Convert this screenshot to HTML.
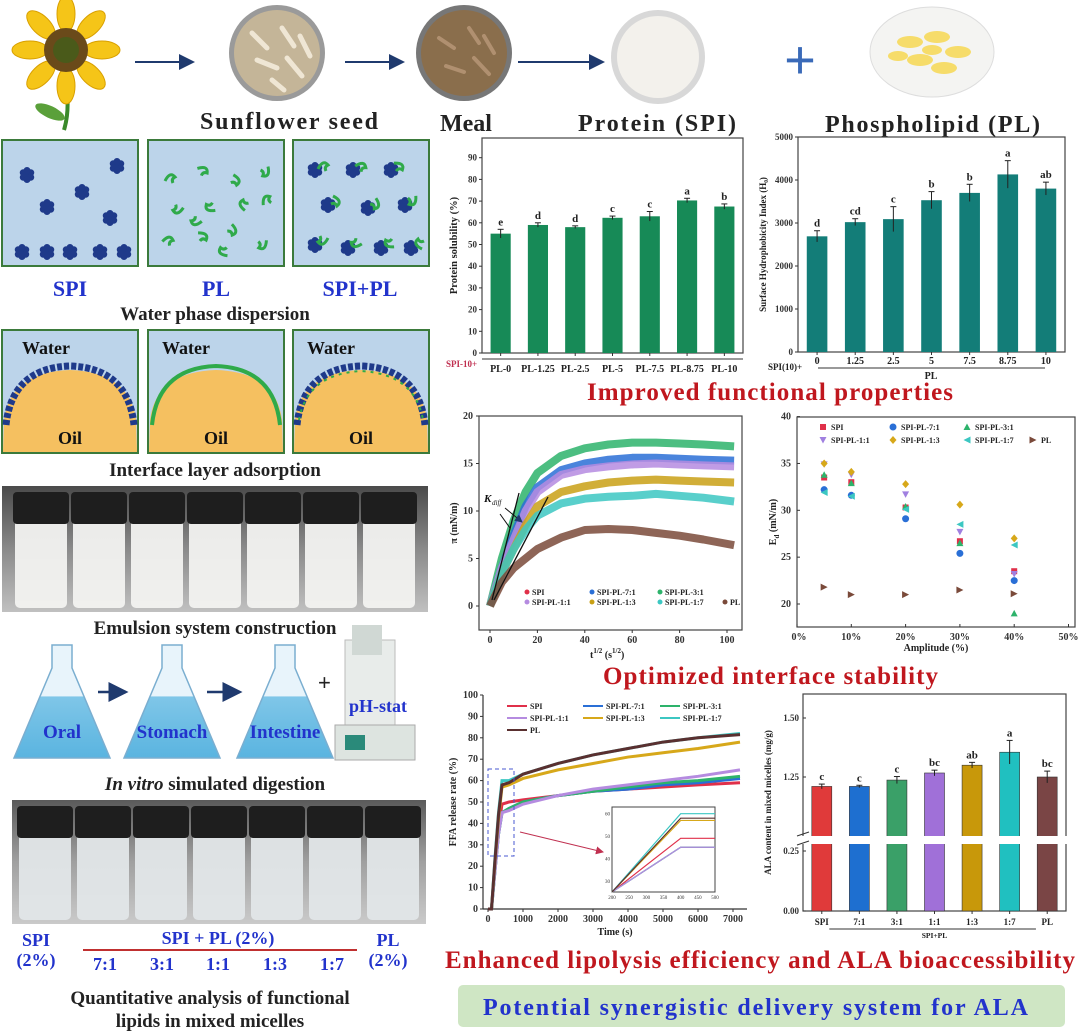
<!DOCTYPE html>
<html><head><meta charset="utf-8"><style>
html,body{margin:0;padding:0;background:#fff;}
svg{display:block;font-family:"Liberation Serif",serif;}
</style></head><body>
<svg id="root" width="1080" height="1035" viewBox="0 0 1080 1035" xmlns="http://www.w3.org/2000/svg">
<defs>
<marker id="ah" markerWidth="8" markerHeight="8" refX="7" refY="4" orient="auto"><path d="M0,0 L8,4 L0,8 z" fill="#1f3a6e"/></marker>
<marker id="ahr" markerWidth="8" markerHeight="8" refX="7" refY="4" orient="auto"><path d="M0,0 L8,4 L0,8 z" fill="#c03050"/></marker>
<linearGradient id="photo1" x1="0" y1="0" x2="0" y2="1"><stop offset="0" stop-color="#4a4a4a"/><stop offset="0.5" stop-color="#8a8a8a"/><stop offset="1" stop-color="#c0c0c0"/></linearGradient>
<linearGradient id="photo2" x1="0" y1="0" x2="0" y2="1"><stop offset="0" stop-color="#5a5a5a"/><stop offset="0.5" stop-color="#a0a0a0"/><stop offset="1" stop-color="#cacaca"/></linearGradient>
<linearGradient id="flask" x1="0" y1="0" x2="0" y2="1"><stop offset="0" stop-color="#e8f4fb"/><stop offset="0.45" stop-color="#e8f4fb"/><stop offset="0.46" stop-color="#7fc6e8"/><stop offset="1" stop-color="#5ab4e0"/></linearGradient>
</defs>

<!-- top row -->
<g>
<path d="M66,85 Q70,110 64,130" stroke="#3a8a2a" stroke-width="4" fill="none"/>
<ellipse cx="50" cy="112" rx="16" ry="6" fill="#5aa03a" transform="rotate(25 50 112)"/>
<g fill="#f5c518" stroke="#d9a000" stroke-width="1">
<ellipse cx="66" cy="14" rx="9" ry="18"/><ellipse cx="66" cy="86" rx="9" ry="18"/>
<ellipse cx="30" cy="50" rx="18" ry="9"/><ellipse cx="102" cy="50" rx="18" ry="9"/>
<ellipse cx="41" cy="25" rx="9" ry="18" transform="rotate(-45 41 25)"/><ellipse cx="91" cy="75" rx="9" ry="18" transform="rotate(-45 91 75)"/>
<ellipse cx="91" cy="25" rx="9" ry="18" transform="rotate(45 91 25)"/><ellipse cx="41" cy="75" rx="9" ry="18" transform="rotate(45 41 75)"/>
</g>
<circle cx="66" cy="50" r="22" fill="#6a4a1a"/><circle cx="66" cy="50" r="13" fill="#4a5a1a"/>
</g>
<line x1="135" y1="62" x2="193" y2="62" stroke="#1f3a6e" stroke-width="2" marker-end="url(#ah)"/>
<g><circle cx="277" cy="53" r="48" fill="#9a9a9a"/><circle cx="277" cy="53" r="43" fill="#c4b598"/>
<g stroke="#efe6d4" stroke-width="5" stroke-linecap="round"><line x1="252" y1="33" x2="267" y2="48"/><line x1="282" y1="28" x2="294" y2="46"/><line x1="257" y1="60" x2="277" y2="68"/><line x1="287" y1="58" x2="302" y2="76"/><line x1="272" y1="80" x2="284" y2="90"/><line x1="300" y1="36" x2="310" y2="56"/></g></g>
<line x1="345" y1="62" x2="403" y2="62" stroke="#1f3a6e" stroke-width="2" marker-end="url(#ah)"/>
<g><circle cx="464" cy="53" r="48" fill="#777"/><circle cx="464" cy="53" r="43" fill="#8a6e4c"/>
<g stroke="#b09070" stroke-width="4" stroke-linecap="round"><line x1="439" y1="38" x2="454" y2="48"/><line x1="469" y1="28" x2="479" y2="43"/><line x1="446" y1="66" x2="464" y2="72"/><line x1="474" y1="58" x2="489" y2="74"/><line x1="484" y1="36" x2="494" y2="53"/></g></g>
<line x1="518" y1="62" x2="603" y2="62" stroke="#1f3a6e" stroke-width="2" marker-end="url(#ah)"/>
<g><circle cx="658" cy="57" r="47" fill="#d8d8d8"/><circle cx="658" cy="57" r="41" fill="#f3f1ec"/></g>
<text x="800" y="78" font-size="54" fill="#3a6ab8" text-anchor="middle" font-family="Liberation Sans, sans-serif">+</text>
<g><ellipse cx="932" cy="52" rx="62" ry="45" fill="#f4f4f2" stroke="#ddd"/>
<g fill="#f6dc6a"><ellipse cx="910" cy="42" rx="13" ry="6"/><ellipse cx="937" cy="37" rx="13" ry="6"/><ellipse cx="958" cy="52" rx="13" ry="6"/><ellipse cx="920" cy="60" rx="13" ry="6"/><ellipse cx="944" cy="68" rx="13" ry="6"/><ellipse cx="898" cy="56" rx="10" ry="5"/><ellipse cx="932" cy="50" rx="10" ry="5"/></g></g>
<text x="200" y="129" font-size="24" font-weight="bold" fill="#222" textLength="178">Sunflower seed</text>
<text x="440" y="131" font-size="24" font-weight="bold" fill="#222">Meal</text>
<text x="578" y="131" font-size="24" font-weight="bold" fill="#222" textLength="158">Protein (SPI)</text>
<text x="825" y="132" font-size="24" font-weight="bold" fill="#222" textLength="215">Phospholipid (PL)</text>

<!-- dispersion panels -->
<g id="disp"></g>
<text x="70" y="296" font-size="22" font-weight="bold" fill="#2233cc" text-anchor="middle">SPI</text>
<text x="216" y="296" font-size="22" font-weight="bold" fill="#2233cc" text-anchor="middle">PL</text>
<text x="360" y="296" font-size="22" font-weight="bold" fill="#2233cc" text-anchor="middle">SPI+PL</text>
<text x="215" y="320" font-size="19" font-weight="bold" fill="#222" text-anchor="middle">Water phase dispersion</text>
<g id="iface"></g>
<text x="215" y="476" font-size="19" font-weight="bold" fill="#222" text-anchor="middle">Interface layer adsorption</text>

<g id="photoA"><rect x="2" y="486" width="426" height="126" fill="url(#photo1)"/></g>
<text x="215" y="634" font-size="19" font-weight="bold" fill="#222" text-anchor="middle">Emulsion system construction</text>

<g>
<g id="flasks"></g>
<line x1="98" y1="692" x2="126" y2="692" stroke="#1f3a6e" stroke-width="2.5" marker-end="url(#ah)"/>
<line x1="207" y1="692" x2="240" y2="692" stroke="#1f3a6e" stroke-width="2.5" marker-end="url(#ah)"/>
<text x="318" y="690" font-size="22" fill="#222" font-family="Liberation Sans, sans-serif">+</text>
<g><rect x="345" y="640" width="50" height="110" fill="#e8ecea" stroke="#bbb"/><rect x="352" y="625" width="30" height="30" fill="#d0d8d4"/><rect x="335" y="725" width="80" height="35" fill="#dde4e0" stroke="#aaa"/><rect x="345" y="735" width="20" height="15" fill="#2a8a7a"/></g>
<text x="378" y="712" font-size="18" font-weight="bold" fill="#2233cc" text-anchor="middle">pH-stat</text>
</g>
<text x="215" y="790" font-size="19" font-weight="bold" fill="#222" text-anchor="middle"><tspan font-style="italic">In vitro</tspan> simulated digestion</text>
<g id="photoB"><rect x="12" y="800" width="414" height="124" fill="url(#photo2)"/></g>
<g font-size="18" font-weight="bold" fill="#2233cc" text-anchor="middle">
<text x="36" y="946">SPI</text><text x="36" y="966">(2%)</text>
<text x="218" y="944">SPI + PL (2%)</text>
<line x1="83" y1="950" x2="357" y2="950" stroke="#c03030" stroke-width="2"/>
<text x="105" y="970">7:1</text><text x="162" y="970">3:1</text><text x="218" y="970">1:1</text><text x="275" y="970">1:3</text><text x="332" y="970">1:7</text>
<text x="388" y="946">PL</text><text x="388" y="966">(2%)</text>
</g>
<text x="210" y="1004" font-size="19" font-weight="bold" fill="#222" text-anchor="middle">Quantitative analysis of functional</text>
<text x="210" y="1027" font-size="19" font-weight="bold" fill="#222" text-anchor="middle">lipids in mixed micelles</text>

<!-- right titles -->
<text x="587" y="400" font-size="25" font-weight="bold" fill="#c0171e" textLength="366">Improved functional properties</text>
<text x="603" y="684" font-size="25" font-weight="bold" fill="#c0171e" textLength="335">Optimized interface stability</text>
<text x="445" y="968" font-size="25" font-weight="bold" fill="#c0171e" textLength="630">Enhanced lipolysis efficiency and ALA bioaccessibility</text>
<g><rect x="458" y="985" width="607" height="42" rx="5" fill="#cfe6c4"/>
<text x="483" y="1015" font-size="24" font-weight="bold" fill="#2233cc" textLength="545">Potential synergistic delivery system for ALA</text></g>

<g id="charts"></g>
</svg>
<script>
// ---- chart data ----
const solCats = ['PL-0','PL-1.25','PL-2.5','PL-5','PL-7.5','PL-8.75','PL-10'];
const solVals = [55,59,58,62.3,63,70.3,67.5];
const solErr = [2,1,0.6,0.8,2.2,1,1.2];
const solLet = ['e','d','d','c','c','a','b'];
const solTicks = [0,10,20,30,40,50,60,70,80,90];
const hydCats = ['0','1.25','2.5','5','7.5','8.75','10'];
const hydVals = [2690,3020,3090,3530,3700,4130,3800];
const hydErr = [130,80,290,200,200,320,150];
const hydLet = ['d','cd','c','b','b','a','ab'];
const hydTicks = [0,1000,2000,3000,4000,5000];
const piT = [0,5,10,15,20,30,40,50,60,70,80,90,103];
const piNames = ['SPI-PL-3:1','SPI-PL-7:1','SPI-PL-1:1','SPI-PL-1:3','SPI-PL-1:7','PL'];
const piGreen = [0,5,9,12,14,15.8,16.6,17,17.2,17.2,17.1,17,16.8];
const piBlue = [0,4,7.5,10.5,12.5,14.3,15,15.4,15.6,15.6,15.5,15.4,15.3];
const piPurple = [0,4,7,10,12,13.8,14.4,14.7,14.9,15,14.9,14.8,14.7];
const piYellow = [0,3.5,6,8.5,10.5,12,12.6,13,13.2,13.3,13.2,13.1,13];
const piCyan = [0,3.5,6,8,9.5,10.8,11.3,11.5,11.6,11.8,11.6,11.4,11];
const piBrown = [0,2.5,4,5,6,7.2,8,8.1,8,7.7,7.4,7,6.4];
const piXTicks = [0,20,40,60,80,100];
const piYTicks = [0,5,10,15,20];
const ampVals = [5,10,20,30,40];
const edSPI = [33.5,33,30.3,26.7,23.5];
const ed71 = [32.2,31.6,29.1,25.4,22.5];
const ed31 = [33.8,32.9,30.4,26.5,19];
const ed11 = [34.9,33.8,31.7,27.7,23.2];
const ed13 = [35,34.1,32.8,30.6,27];
const ed17 = [31.9,31.5,30.1,28.5,26.3];
const edPL = [21.8,21,21,21.5,21.1];
const edXTicks = [0,10,20,30,40,50];
const edYTicks = [20,25,30,35,40];
const ffaT = [0,100,200,300,400,600,1000,2000,3000,4000,5000,6000,7200];
const ffaSPI = [0,0,20,38,49,50,51,53,55,56,57,58,59];
const ffa71 = [0,0,18,35,45,47,50,53,55,56,58,59,61];
const ffa31 = [0,0,18,35,45,47,50,53,55,57,59,60,62];
const ffa11 = [0,0,18,35,45,46,49,53,56,58,60,62,65];
const ffa13 = [0,0,22,42,57,58,61,65,68,71,73,75,78];
const ffa17 = [0,0,24,45,60,60,63,68,72,75,78,80,82];
const ffaPL = [0,0,23,44,58,59,63,68,72,75,78,80,81.5];
const ffaXTicks = [0,1000,2000,3000,4000,5000,6000,7000];
const ffaYTicks = [0,10,20,30,40,50,60,70,80,90,100];
const alaCats = ['SPI','7:1','3:1','1:1','1:3','1:7','PL'];
const alaVals = [1.21,1.21,1.237,1.267,1.30,1.355,1.25];
const alaErr = [0.01,0.005,0.015,0.012,0.012,0.05,0.025];
const alaLet = ['c','c','c','bc','ab','a','bc'];

const NS='http://www.w3.org/2000/svg';
function mk(tag, attrs, parent){const e=document.createElementNS(NS,tag);for(const k in attrs)e.setAttribute(k,attrs[k]);parent.appendChild(e);return e;}
function txt(s, attrs, parent){const e=mk('text',attrs,parent);e.textContent=s;return e;}
const charts=document.getElementById('charts');
const F='Liberation Serif, serif';

// ---- illustrations ----
(function(){
 const d=document.getElementById('disp');
 const xs=[2,148,293];
 function cluster(g,cx,cy,s){for(const[a,b]of[[0,0],[-1,-0.6],[1,-0.6],[-1,0.6],[1,0.6],[0,-1.2],[0,1.2]])mk('circle',{cx:cx+a*3.6*s,cy:cy+b*3.6*s,r:3.3*s,fill:'#1f3a8a'},g);}
 function leaf(g,cx,cy,r){mk('path',{d:`M${cx-5},${cy+3} q5,-10 10,-4 q-4,2 -2,6`,fill:'none',stroke:'#2faa4a','stroke-width':3,transform:`rotate(${r} ${cx} ${cy})`},g);}
 xs.forEach((x,i)=>{
  const g=mk('g',{},d);
  
  
  mk('rect',{x:x,y:140,width:136,height:126,fill:'#bcd4ea',stroke:'#3b7a3b','stroke-width':2},g);
  if(i===0){[[25,175],[115,166],[80,192],[45,207],[108,218],[20,252],[45,252],[68,252],[98,252],[122,252]].forEach(p=>cluster(g,x+p[0],p[1],1.05));}
  if(i===1){[[22,178],[55,170],[88,180],[118,172],[30,210],[62,208],[95,205],[118,200],[20,240],[55,236],[85,230],[115,245],[48,222],[75,252]].forEach((p,j)=>leaf(g,x+p[0],p[1],j*47));}
  if(i===2){[[22,170],[60,170],[98,170],[35,205],[75,208],[112,205],[22,245],[55,248],[88,248],[118,248]].forEach((p,j)=>{cluster(g,x+p[0],p[1],1.05);leaf(g,x+p[0]+8,p[1]-4,j*30);});}
 });
 const f=document.getElementById('iface');
 xs.forEach((x,i)=>{
  const g=mk('g',{},f);
  
  
  mk('rect',{x:x,y:330,width:136,height:123,fill:'#bcd4ea',stroke:'#3b7a3b','stroke-width':2},g);
  mk('path',{d:`M${x+1},452 L${x+2},420 Q${x+8},372 ${x+68},370 Q${x+128},372 ${x+134},420 L${x+135},452 Z`,fill:'#f5c060'},g);
  const col=i===1?'#2faa4a':'#1f3a8a';
  mk('path',{d:`M${x+4},425 Q${x+10},368 ${x+68},366 Q${x+126},368 ${x+132},425`,fill:'none',stroke:col,'stroke-width':i===1?4:7,'stroke-dasharray':i===1?'':'5 2'},g);
  if(i===2)mk('path',{d:`M${x+6},420 Q${x+14},374 ${x+68},371 Q${x+122},374 ${x+130},420`,fill:'none',stroke:'#2faa4a','stroke-width':2,'stroke-dasharray':'3 5'},g);
  txt('Water',{x:x+(i===0?20:14),y:354,'font-size':18,'font-weight':'bold',fill:'#111'},g);
  txt('Oil',{x:x+68,y:444,'font-size':18,'font-weight':'bold',fill:'#111','text-anchor':'middle'},g);
 });
 function vials(id,y0,h,fill,x0){const g=document.getElementById(id);for(let i=0;i<7;i++){const x=x0+i*58;
  mk('rect',{x:x+3,y:y0+22,width:52,height:h-26,rx:5,fill:fill,opacity:0.95},g);
  mk('rect',{x:x+1,y:y0+6,width:56,height:32,rx:4,fill:'#1e1e1e'},g);}}
 vials('photoA',486,126,'#f2f2f0',12);
 vials('photoB',800,124,'#e2e6e8',16);
 const fl=document.getElementById('flasks');
 [['Oral',62],['Stomach',172],['Intestine',285]].forEach(([n,cx],i)=>{
  const g=mk('g',{},fl);
  
  
  mk('path',{d:`M${cx-10},645 L${cx+10},645 L${cx+10},668 L${cx+48},758 L${cx-48},758 L${cx-10},668 Z`,fill:'url(#flask)',stroke:'#7aaed0','stroke-width':1.5},g);
  txt(n,{x:cx,y:738,'font-size':19,'font-weight':'bold',fill:'#2233cc','text-anchor':'middle'},g);
 });
})();

// ---- generic bar chart ----
function barChart(name,L,R,T,B,cats,vals,err,lets,ticks,ymax,color,ylabel,opts){
 const g=mk('g',{},charts);
 
 
 const y=v=>B-v/ymax*(B-opts.top);
 const bw=(R-L)/cats.length;
 mk('rect',{x:L,y:T,width:R-L,height:B-T,fill:'none',stroke:'#444','stroke-width':1.2},g);
 ticks.forEach(t=>{mk('line',{x1:L-3,y1:y(t),x2:L,y2:y(t),stroke:'#333'},g);
  const tl=txt(String(t),{x:L-5,y:y(t)+3,'font-size':9,'font-weight':'bold','text-anchor':'end',fill:'#333','font-family':F},g);
  
  });
 cats.forEach((c,i)=>{const cx=L+bw*(i+0.5);
  const b=mk('rect',{x:cx-bw*0.27,y:y(vals[i]),width:bw*0.54,height:B-y(vals[i]),fill:color},g);
  
  
  mk('line',{x1:cx,y1:y(vals[i]+err[i]),x2:cx,y2:y(vals[i]-err[i]),stroke:'#222'},g);
  mk('line',{x1:cx-3,y1:y(vals[i]+err[i]),x2:cx+3,y2:y(vals[i]+err[i]),stroke:'#222'},g);
  const lt=txt(lets[i],{x:cx,y:y(vals[i]+err[i])-4,'font-size':11,'font-weight':'bold','text-anchor':'middle',fill:'#222','font-family':F},g);
  
  
  const xl=txt(c,{x:cx,y:opts.xly,'font-size':opts.xfs,'font-weight':'bold','text-anchor':'middle',fill:'#222','font-family':F},g);
  
  
  mk('line',{x1:cx,y1:B,x2:cx,y2:B+3,stroke:'#333'},g);});
 const yl=txt(ylabel,{x:0,y:0,'font-size':opts.yfs,'font-weight':'bold','text-anchor':'middle',fill:'#222','font-family':F,transform:`translate(${opts.ylx},${(T+B)/2}) rotate(-90)`},g);
 
 
 return {g,y};
}
let c1=barChart('protein-solubility-chart',482,743,138,353,solCats,solVals,solErr,solLet,solTicks,100,'#178a57','Protein solubility (%)',{xfs:10,yfs:10.5,xly:372,ylx:457,top:136});
txt('SPI-10+',{x:446,y:367,'font-size':9,'font-weight':'bold',fill:'#c03050','font-family':F},c1.g);
mk('line',{x1:482,y1:359,x2:743,y2:359,stroke:'#333'},c1.g);
let c2=barChart('surface-hydrophobicity-chart',798,1065,137,352,hydCats,hydVals,hydErr,hydLet,hydTicks,5000,'#137d78','Surface Hydrophobicity Index (H₀)',{xfs:10,yfs:9,xly:364,ylx:766,top:137});
txt('SPI(10)+',{x:768,y:370,'font-size':9,'font-weight':'bold',fill:'#222','font-family':F},c2.g);
mk('line',{x1:818,y1:368,x2:1045,y2:368,stroke:'#333'},c2.g);
txt('PL',{x:931,y:379,'font-size':10,'font-weight':'bold','text-anchor':'middle',fill:'#222','font-family':F},c2.g);

// ---- pi chart ----
(function(){
 const g=mk('g',{},charts);
 
 
 const L=479,R=742,T=416,B=630;
 const x=t=>490+t*2.37, y=v=>606-v*9.5;
 mk('rect',{x:L,y:T,width:R-L,height:B-T,fill:'none',stroke:'#444','stroke-width':1.2},g);
 piXTicks.forEach(t=>{mk('line',{x1:x(t),y1:B,x2:x(t),y2:B+3,stroke:'#333'},g);txt(String(t),{x:x(t),y:B+13,'font-size':10,'font-weight':'bold','text-anchor':'middle',fill:'#333','font-family':F},g);});
 piYTicks.forEach(t=>{mk('line',{x1:L-3,y1:y(t),x2:L,y2:y(t),stroke:'#333'},g);txt(String(t),{x:L-6,y:y(t)+3,'font-size':10,'font-weight':'bold','text-anchor':'end',fill:'#333','font-family':F},g);});
 const series=[[piGreen,'#2db36b'],[piBlue,'#2a6fd6'],[piPurple,'#b58be0'],[piYellow,'#c9a015'],[piCyan,'#3cc7c2'],[piBrown,'#7a4a3a']];
 series.forEach(([vals,col],i)=>{
  const p=mk('polyline',{points:piT.map((t,j)=>x(t)+','+y(vals[j])).join(' '),fill:'none',stroke:col,'stroke-width':8,'stroke-opacity':0.85,'stroke-linejoin':'round'},g);
  
  });
 mk('line',{x1:492,y1:600,x2:519,y2:493,stroke:'#111','stroke-width':1.3},g);
 mk('line',{x1:494,y1:600,x2:548,y2:497,stroke:'#111','stroke-width':1.3},g);
 txt('K',{x:484,y:502,'font-size':11,'font-style':'italic','font-weight':'bold',fill:'#111','font-family':F},g);
 txt('diff',{x:492,y:505,'font-size':7,'font-style':'italic',fill:'#111','font-family':F},g);
 mk('line',{x1:505,y1:508,x2:522,y2:522,stroke:'#111','marker-end':'url(#ah)'},g);
 mk('line',{x1:500,y1:514,x2:510,y2:528,stroke:'#111'},g);
 const lg=[['SPI','#e0304a',527,595],['SPI-PL-7:1','#2a6fd6',592,595],['SPI-PL-3:1','#2db36b',660,595],['SPI-PL-1:1','#b58be0',527,605],['SPI-PL-1:3','#c9a015',592,605],['SPI-PL-1:7','#3cc7c2',660,605],['PL','#7a4a3a',725,605]];
 lg.forEach(([n,c,lx,ly])=>{const e=mk('g',{},g);
  
  
  mk('circle',{cx:lx,cy:ly-3,r:2.5,fill:c},e);txt(n,{x:lx+5,y:ly,'font-size':8,'font-weight':'bold',fill:'#222','font-family':F},e);});
 txt('π (mN/m)',{x:0,y:0,'font-size':10,'font-weight':'bold','text-anchor':'middle',fill:'#222','font-family':F,transform:`translate(457,${(T+B)/2}) rotate(-90)`},g);
 const at=mk('text',{x:590,y:658,'font-size':10,'font-weight':'bold',fill:'#222','font-family':F},g);
 at.innerHTML='t<tspan dy="-5" font-size="7">1/2</tspan><tspan dy="5"> (s</tspan><tspan dy="-5" font-size="7">1/2</tspan><tspan dy="5">)</tspan>';
})();

// ---- Ed chart ----
(function(){
 const g=mk('g',{},charts);
 
 
 const L=797,R=1075,T=417,B=627;
 const x=a=>797+a*5.43, y=v=>604-(v-20)*9.37;
 mk('rect',{x:L,y:T,width:R-L,height:B-T,fill:'none',stroke:'#444','stroke-width':1.2},g);
 edXTicks.forEach(t=>{mk('line',{x1:x(t),y1:B,x2:x(t),y2:B-3,stroke:'#333'},g);txt(t+'%',{x:x(t)-(t===0?-2:0),y:B+13,'font-size':10,'font-weight':'bold','text-anchor':'middle',fill:'#333','font-family':F},g);});
 edYTicks.forEach(t=>{mk('line',{x1:L,y1:y(t),x2:L+3,y2:y(t),stroke:'#333'},g);txt(String(t),{x:L-6,y:y(t)+3,'font-size':10,'font-weight':'bold','text-anchor':'end',fill:'#333','font-family':F},g);});
 const ser=[[edSPI,'#e0304a','SPI','s'],[ed71,'#2a6fd6','SPI-PL-7:1','c'],[ed31,'#2db36b','SPI-PL-3:1','t'],[ed11,'#a080e0','SPI-PL-1:1','v'],[ed13,'#d7a81a','SPI-PL-1:3','d'],[ed17,'#3cc7c2','SPI-PL-1:7','l'],[edPL,'#7a4a3a','PL','r']];
 function marker(par,cx,cy,c,s){let e;
  if(s==='s')e=mk('rect',{x:cx-3,y:cy-3,width:6,height:6,fill:c},par);
  else if(s==='t')e=mk('path',{d:`M${cx},${cy-3.5} L${cx+3.5},${cy+3} L${cx-3.5},${cy+3}Z`,fill:c},par);
  else if(s==='v')e=mk('path',{d:`M${cx},${cy+3.5} L${cx+3.5},${cy-3} L${cx-3.5},${cy-3}Z`,fill:c},par);
  else if(s==='d')e=mk('path',{d:`M${cx},${cy-4} L${cx+3.5},${cy} L${cx},${cy+4} L${cx-3.5},${cy}Z`,fill:c},par);
  else if(s==='l')e=mk('path',{d:`M${cx-3.5},${cy} L${cx+3.5},${cy-3.5} L${cx+3.5},${cy+3.5}Z`,fill:c},par);
  else if(s==='r')e=mk('path',{d:`M${cx+3.5},${cy} L${cx-3.5},${cy-3.5} L${cx-3.5},${cy+3.5}Z`,fill:c},par);
  else e=mk('circle',{cx:cx,cy:cy,r:3.5,fill:c},par);return e;}
 ser.forEach(([vals,c,n,s],i)=>{vals.forEach((v,j)=>{
  const m=marker(g,x(ampVals[j]),y(v),c,s);
  
  });});
 const lp=[[0,823,430],[1,893,430],[2,967,430],[3,823,443],[4,893,443],[5,967,443],[6,1033,443]];
 lp.forEach(([i,lx,ly])=>{const e=mk('g',{},g);
  
  
  marker(e,lx,ly-3,ser[i][1],ser[i][3]);txt(ser[i][2],{x:lx+8,y:ly,'font-size':8,'font-weight':'bold',fill:'#222','font-family':F},e);});
 const yt=mk('text',{x:0,y:0,'font-size':10,'font-weight':'bold','text-anchor':'middle',fill:'#222','font-family':F,transform:`translate(776,${(T+B)/2}) rotate(-90)`},g);
 yt.innerHTML='E<tspan dy="3" font-size="7">d</tspan><tspan dy="-3"> (mN/m)</tspan>';
 txt('Amplitude (%)',{x:936,y:651,'font-size':10,'font-weight':'bold','text-anchor':'middle',fill:'#222','font-family':F},g);
})();

// ---- FFA chart ----
(function(){
 const g=mk('g',{},charts);
 
 
 const L=483,R=747,T=695,B=909;
 const x=t=>488+t*0.035, y=v=>B-v*2.14;
 mk('line',{x1:L,y1:T,x2:L,y2:B,stroke:'#333','stroke-width':1.2},g);
 mk('line',{x1:L,y1:B,x2:R,y2:B,stroke:'#333','stroke-width':1.2},g);
 ffaXTicks.forEach(t=>{mk('line',{x1:x(t),y1:B,x2:x(t),y2:B+3,stroke:'#333'},g);txt(String(t),{x:x(t),y:B+13,'font-size':10,'font-weight':'bold','text-anchor':'middle',fill:'#333','font-family':F},g);});
 ffaYTicks.forEach(t=>{mk('line',{x1:L-3,y1:y(t),x2:L,y2:y(t),stroke:'#333'},g);txt(String(t),{x:L-5,y:y(t)+3,'font-size':10,'font-weight':'bold','text-anchor':'end',fill:'#333','font-family':F},g);});
 const ser=[[ffaSPI,'#e0304a','SPI'],[ffa71,'#2a6fd6','SPI-PL-7:1'],[ffa31,'#2db36b','SPI-PL-3:1'],[ffa11,'#b58be0','SPI-PL-1:1'],[ffa13,'#d7a81a','SPI-PL-1:3'],[ffa17,'#3cc7c2','SPI-PL-1:7'],[ffaPL,'#5a3030','PL']];
 ser.forEach(([v,c,n])=>{const p=mk('polyline',{points:ffaT.map((t,j)=>x(t)+','+y(v[j])).join(' '),fill:'none',stroke:c,'stroke-width':3},g);
  
  });
 const lp=[[0,507,709],[1,583,709],[2,660,709],[3,507,721],[4,583,721],[5,660,721],[6,507,733]];
 lp.forEach(([i,lx,ly])=>{const e=mk('g',{},g);
  
  
  mk('line',{x1:lx,y1:ly-3,x2:lx+20,y2:ly-3,stroke:ser[i][1],'stroke-width':2},e);txt(ser[i][2],{x:lx+23,y:ly,'font-size':8,'font-weight':'bold',fill:'#222','font-family':F},e);});
 mk('rect',{x:488,y:769,width:26,height:87,fill:'none',stroke:'#4a5ad0','stroke-dasharray':'4 3'},g);
 mk('line',{x1:520,y1:832,x2:603,y2:852,stroke:'#c03050','marker-end':'url(#ahr)'},g);
 const ig=mk('g',{},g);
 
 
 const iL=612,iR=715,iT=807,iB=892;
 const ix=t=>iL+(t-200)/300*(iR-iL), iy=v=>iB-(v-25)/38*(iB-iT);
 mk('rect',{x:iL,y:iT,width:iR-iL,height:iB-iT,fill:'#fff',stroke:'#444'},ig);
 [200,250,300,350,400,450,500].forEach(t=>txt(String(t),{x:ix(t),y:iB+7,'font-size':5,'text-anchor':'middle',fill:'#333','font-family':F},ig));
 [30,40,50,60].forEach(t=>txt(String(t),{x:iL-2,y:iy(t)+2,'font-size':5,'text-anchor':'end',fill:'#333','font-family':F},ig));
 ser.forEach(([v,c])=>{const pts=[ix(200)+','+iy(25),ix(400)+','+iy(v[4]),ix(500)+','+iy(v[4])];
  mk('polyline',{points:pts.join(' '),fill:'none',stroke:c,'stroke-width':1.2},ig);});
 txt('FFA release rate (%)',{x:0,y:0,'font-size':10,'font-weight':'bold','text-anchor':'middle',fill:'#222','font-family':F,transform:`translate(456,${(T+B)/2}) rotate(-90)`},g);
 txt('Time (s)',{x:615,y:935,'font-size':10,'font-weight':'bold','text-anchor':'middle',fill:'#222','font-family':F},g);
})();

// ---- ALA chart ----
(function(){
 const g=mk('g',{},charts);
 
 
 const L=803,R=1066,T=694,B=911;
 const y=v=>v>=1?777-(v-1.25)*236:B-v*240;
 const cols=['#e03a3a','#1e6fd0','#3aa068','#a070d8','#c8980a','#20c0c0','#7a4545'];
 mk('rect',{x:L,y:T,width:R-L,height:B-T,fill:'none',stroke:'#444','stroke-width':1.2},g);
 const bw=(R-L)/alaCats.length;
 alaCats.forEach((c,i)=>{const cx=L+bw*(i+0.5);
  const b=mk('rect',{x:cx-10,y:y(alaVals[i]),width:20,height:B-y(alaVals[i]),fill:cols[i],stroke:'#333','stroke-width':0.6},g);
  
  
  mk('line',{x1:cx,y1:y(alaVals[i]+alaErr[i]),x2:cx,y2:y(alaVals[i]-alaErr[i]),stroke:'#222'},g);
  mk('line',{x1:cx-3,y1:y(alaVals[i]+alaErr[i]),x2:cx+3,y2:y(alaVals[i]+alaErr[i]),stroke:'#222'},g);
  txt(alaLet[i],{x:cx,y:y(alaVals[i]+alaErr[i])-4,'font-size':11,'font-weight':'bold','text-anchor':'middle',fill:'#222','font-family':F},g);
  mk('line',{x1:cx,y1:B,x2:cx,y2:B+3,stroke:'#333'},g);
  txt(c,{x:cx,y:B+14,'font-size':9,'font-weight':'bold','text-anchor':'middle',fill:'#222','font-family':F},g);});
 mk('rect',{x:L-6,y:836,width:R-L+12,height:8,fill:'#fff'},g);
 mk('line',{x1:L-6,y1:836,x2:L+6,y2:832,stroke:'#333'},g);mk('line',{x1:L-6,y1:845,x2:L+6,y2:841,stroke:'#333'},g);
 [[1.5,'1.50'],[1.25,'1.25'],[0.25,'0.25'],[0,'0.00']].forEach(([v,s])=>{mk('line',{x1:L,y1:y(v),x2:L+3,y2:y(v),stroke:'#333'},g);txt(s,{x:L-4,y:y(v)+3,'font-size':9,'font-weight':'bold','text-anchor':'end',fill:'#333','font-family':F},g);});
 mk('line',{x1:L+bw*0.7,y1:B+18,x2:L+bw*6.2,y2:B+18,stroke:'#333'},g);
 txt('SPI+PL',{x:L+bw*3.5,y:B+27,'font-size':7.5,'font-weight':'bold','text-anchor':'middle',fill:'#222','font-family':F},g);
 txt('ALA content in mixed micelles (mg/g)',{x:0,y:0,'font-size':9,'font-weight':'bold','text-anchor':'middle',fill:'#222','font-family':F,transform:`translate(771,${(T+B)/2}) rotate(-90)`},g);
})();
</script>
</body></html>
